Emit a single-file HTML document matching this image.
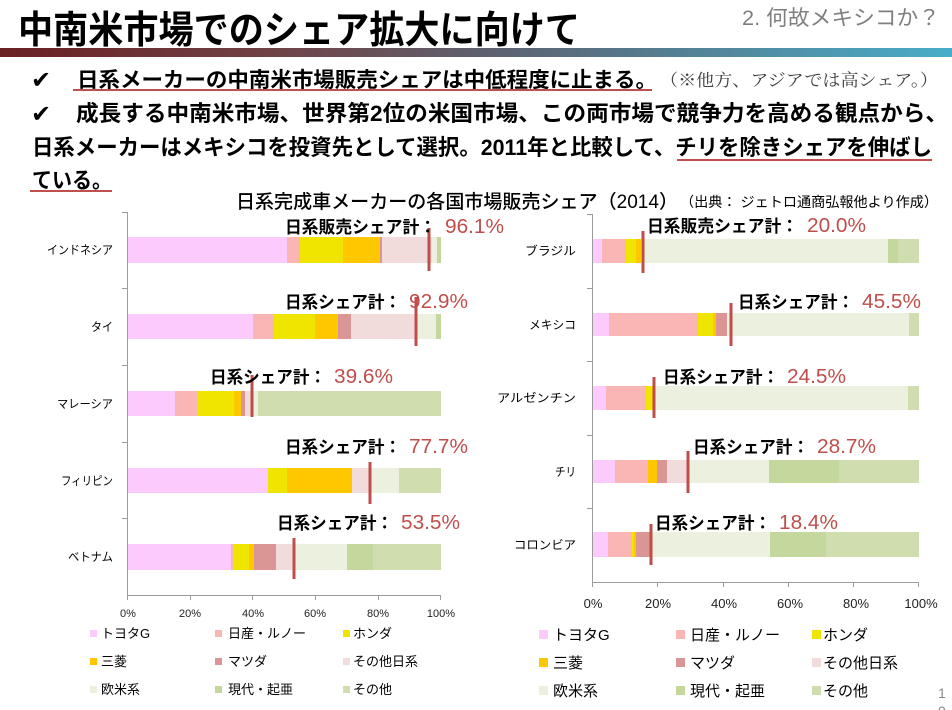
<!DOCTYPE html>
<html><head><meta charset="utf-8"><style>
html,body{margin:0;padding:0;background:#fff;width:952px;height:710px;overflow:hidden}
svg{display:block}
.jp{font-family:"Liberation Sans","Noto Sans CJK JP",sans-serif}
.mc{font-family:"Liberation Serif","Noto Serif CJK SC",serif}
.lb{font-family:"Liberation Sans","Noto Sans CJK JP",sans-serif;font-weight:bold;font-size:17px;fill:#000}
.pc{font-family:"Liberation Sans",sans-serif;font-size:20px;fill:#bf4e4b}
.cat{font-family:"Liberation Sans","Noto Sans CJK JP",sans-serif;font-size:12px;fill:#000}
.tk{font-family:"Liberation Sans",sans-serif;fill:#222}
.ck{font-family:"DejaVu Sans",sans-serif;font-weight:bold}
</style></head><body>
<svg width="952" height="710" viewBox="0 0 952 710" xmlns="http://www.w3.org/2000/svg">
<defs>
<linearGradient id="g" x1="0" y1="0" x2="1" y2="0">
<stop offset="0" stop-color="#6a2023"/>
<stop offset="0.3" stop-color="#6f4448"/>
<stop offset="0.55" stop-color="#5b6676"/>
<stop offset="1" stop-color="#48adc9"/>
</linearGradient>
</defs>
<rect width="952" height="710" fill="#fff"/>

<!-- Title -->
<text x="18" y="43" class="jp" font-size="38" font-weight="bold" textLength="562" lengthAdjust="spacingAndGlyphs">中南米市場でのシェア拡大に向けて</text>
<text x="742" y="25" class="jp" font-size="21" fill="#7f7f7f" textLength="198" lengthAdjust="spacingAndGlyphs">2. 何故メキシコか？</text>
<rect x="0" y="48" width="952" height="9" fill="url(#g)"/>

<!-- Bullets -->
<text x="31" y="88" class="ck" font-size="24">✔</text>
<text x="77" y="87" class="jp" font-size="21" font-weight="bold" textLength="580" lengthAdjust="spacingAndGlyphs">日系メーカーの中南米市場販売シェアは中低程度に止まる。</text>
<line x1="73" y1="90" x2="652" y2="90" stroke="#c0504d" stroke-width="2"/>
<text x="660" y="86" class="mc" font-size="17" fill="#404040" textLength="278" lengthAdjust="spacingAndGlyphs">（※他方、アジアでは高シェア。）</text>

<text x="31" y="122" class="ck" font-size="24">✔</text>
<text x="76" y="121" class="jp" font-size="22" font-weight="bold" textLength="872" lengthAdjust="spacingAndGlyphs">成長する中南米市場、世界第2位の米国市場、この両市場で競争力を高める観点から、</text>
<text x="32" y="155" class="jp" font-size="22" font-weight="bold" textLength="900" lengthAdjust="spacingAndGlyphs">日系メーカーはメキシコを投資先として選択。2011年と比較して、チリを除きシェアを伸ばし</text>
<line x1="677" y1="160" x2="932" y2="160" stroke="#c0504d" stroke-width="2"/>
<text x="32" y="188" class="jp" font-size="22" font-weight="bold" textLength="80" lengthAdjust="spacingAndGlyphs">ている。</text>
<line x1="30" y1="191" x2="112" y2="191" stroke="#c0504d" stroke-width="2"/>

<!-- Chart title -->
<text x="236" y="208" class="jp" font-size="19" font-weight="500" textLength="442" lengthAdjust="spacingAndGlyphs">日系完成車メーカーの各国市場販売シェア（2014）</text>
<text x="680" y="207" class="jp" font-size="14" textLength="258" lengthAdjust="spacingAndGlyphs">（出典： ジェトロ通商弘報他より作成）</text>

<!-- LEFT CHART bars -->
<g>
<rect x="127" y="237" width="160" height="26" fill="#fccafc"/>
<rect x="287" y="237" width="13" height="26" fill="#f9b6b4"/>
<rect x="300" y="237" width="43" height="26" fill="#f0e500"/>
<rect x="343" y="237" width="37" height="26" fill="#ffc700"/>
<rect x="380" y="237" width="2" height="26" fill="#d99694"/>
<rect x="382" y="237" width="50" height="26" fill="#f2dcdb"/>
<rect x="432" y="237" width="5" height="26" fill="#ebf1de"/>
<rect x="437" y="237" width="4" height="26" fill="#c4d79c"/>

<rect x="127" y="314" width="126" height="25" fill="#fccafc"/>
<rect x="253" y="314" width="21" height="25" fill="#f9b6b4"/>
<rect x="274" y="314" width="41" height="25" fill="#f0e500"/>
<rect x="315" y="314" width="23" height="25" fill="#ffc700"/>
<rect x="338" y="314" width="13" height="25" fill="#d99694"/>
<rect x="351" y="314" width="66" height="25" fill="#f2dcdb"/>
<rect x="417" y="314" width="19" height="25" fill="#ebf1de"/>
<rect x="436" y="314" width="5" height="25" fill="#c4d79c"/>

<rect x="127" y="391" width="48" height="25" fill="#fccafc"/>
<rect x="175" y="391" width="22" height="25" fill="#f9b6b4"/>
<rect x="197" y="391" width="37" height="25" fill="#f0e500"/>
<rect x="234" y="391" width="7" height="25" fill="#ffc700"/>
<rect x="241" y="391" width="4" height="25" fill="#d99694"/>
<rect x="245" y="391" width="9" height="25" fill="#f2dcdb"/>
<rect x="254" y="391" width="4" height="25" fill="#ebf1de"/>
<rect x="258" y="391" width="183" height="25" fill="#cfddaf"/>

<rect x="127" y="468" width="141" height="25" fill="#fccafc"/>
<rect x="268" y="468" width="19" height="25" fill="#f0e500"/>
<rect x="287" y="468" width="65" height="25" fill="#ffc700"/>
<rect x="352" y="468" width="19" height="25" fill="#f2dcdb"/>
<rect x="371" y="468" width="28" height="25" fill="#ebf1de"/>
<rect x="399" y="468" width="42" height="25" fill="#cfddaf"/>

<rect x="127" y="544" width="104" height="26" fill="#fccafc"/>
<rect x="231" y="544" width="2" height="26" fill="#f9b6b4"/>
<rect x="233" y="544" width="16" height="26" fill="#f0e500"/>
<rect x="249" y="544" width="5" height="26" fill="#ffc700"/>
<rect x="254" y="544" width="22" height="26" fill="#d99694"/>
<rect x="276" y="544" width="19" height="26" fill="#f2dcdb"/>
<rect x="295" y="544" width="52" height="26" fill="#ebf1de"/>
<rect x="347" y="544" width="26" height="26" fill="#c4d79c"/>
<rect x="373" y="544" width="68" height="26" fill="#cfddaf"/>
</g>
<g stroke="#bf4e4b" stroke-width="3">
<line x1="429" y1="228" x2="429" y2="271"/>
<line x1="416" y1="297" x2="416" y2="346"/>
<line x1="252" y1="375" x2="252" y2="417"/>
<line x1="370" y1="462" x2="370" y2="504"/>
<line x1="294" y1="538" x2="294" y2="579"/>
</g>
<g stroke="#9c9c9c" stroke-width="1" fill="none">
<line x1="127.5" y1="212" x2="127.5" y2="595"/>
<line x1="127" y1="595.5" x2="441" y2="595.5"/>
<line x1="122" y1="212.5" x2="127" y2="212.5"/>
<line x1="122" y1="288.5" x2="127" y2="288.5"/>
<line x1="122" y1="365.5" x2="127" y2="365.5"/>
<line x1="122" y1="442.5" x2="127" y2="442.5"/>
<line x1="122" y1="518.5" x2="127" y2="518.5"/>
<line x1="127.5" y1="595" x2="127.5" y2="600"/>
<line x1="190.5" y1="595" x2="190.5" y2="600"/>
<line x1="252.5" y1="595" x2="252.5" y2="600"/>
<line x1="315.5" y1="595" x2="315.5" y2="600"/>
<line x1="378.5" y1="595" x2="378.5" y2="600"/>
<line x1="440.5" y1="595" x2="440.5" y2="600"/>
</g>
<g class="cat" text-anchor="end">
<text x="113" y="254" textLength="66" lengthAdjust="spacingAndGlyphs">インドネシア</text>
<text x="113" y="331" textLength="22" lengthAdjust="spacingAndGlyphs">タイ</text>
<text x="113" y="408" textLength="56" lengthAdjust="spacingAndGlyphs">マレーシア</text>
<text x="113" y="485" textLength="52" lengthAdjust="spacingAndGlyphs">フィリピン</text>
<text x="113" y="561" textLength="45" lengthAdjust="spacingAndGlyphs">ベトナム</text>
</g>
<g class="tk" font-size="11" text-anchor="middle">
<text x="128" y="617">0%</text>
<text x="190" y="617">20%</text>
<text x="253" y="617">40%</text>
<text x="315" y="617">60%</text>
<text x="378" y="617">80%</text>
<text x="441" y="617">100%</text>
</g>
<text x="285" y="233" class="lb" textLength="151" lengthAdjust="spacingAndGlyphs">日系販売シェア計：</text>
<text x="445" y="233" class="pc" textLength="59" lengthAdjust="spacingAndGlyphs">96.1%</text>
<text x="285" y="308" class="lb" textLength="116" lengthAdjust="spacingAndGlyphs">日系シェア計：</text>
<text x="409" y="308" class="pc" textLength="59" lengthAdjust="spacingAndGlyphs">92.9%</text>
<text x="210" y="383" class="lb" textLength="116" lengthAdjust="spacingAndGlyphs">日系シェア計：</text>
<text x="334" y="383" class="pc" textLength="59" lengthAdjust="spacingAndGlyphs">39.6%</text>
<text x="285" y="453" class="lb" textLength="116" lengthAdjust="spacingAndGlyphs">日系シェア計：</text>
<text x="409" y="453" class="pc" textLength="59" lengthAdjust="spacingAndGlyphs">77.7%</text>
<text x="277" y="529" class="lb" textLength="116" lengthAdjust="spacingAndGlyphs">日系シェア計：</text>
<text x="401" y="529" class="pc" textLength="59" lengthAdjust="spacingAndGlyphs">53.5%</text>

<g class="jp" font-size="13">
<rect x="90" y="630" width="7" height="7" fill="#fccafc"/><text x="101" y="638">トヨタG</text>
<rect x="215" y="630" width="7" height="7" fill="#f9b6b4"/><text x="228" y="638">日産・ルノー</text>
<rect x="343" y="630" width="7" height="7" fill="#f0e500"/><text x="353" y="638">ホンダ</text>
<rect x="90" y="658" width="7" height="7" fill="#ffc700"/><text x="101" y="666">三菱</text>
<rect x="215" y="658" width="7" height="7" fill="#d99694"/><text x="228" y="666">マツダ</text>
<rect x="343" y="658" width="7" height="7" fill="#f2dcdb"/><text x="353" y="666">その他日系</text>
<rect x="90" y="686" width="7" height="7" fill="#ebf1de"/><text x="101" y="694">欧米系</text>
<rect x="215" y="686" width="7" height="7" fill="#c4d79c"/><text x="228" y="694">現代・起亜</text>
<rect x="343" y="686" width="7" height="7" fill="#cfddaf"/><text x="353" y="694">その他</text>
</g>

<!-- RIGHT CHART -->
<g>
<rect x="592" y="239" width="10" height="24" fill="#fccafc"/>
<rect x="602" y="239" width="24" height="24" fill="#f9b6b4"/>
<rect x="626" y="239" width="10" height="24" fill="#f0e500"/>
<rect x="636" y="239" width="5" height="24" fill="#ffc700"/>
<rect x="641" y="239" width="247" height="24" fill="#ebf1de"/>
<rect x="888" y="239" width="10" height="24" fill="#c4d79c"/>
<rect x="898" y="239" width="21" height="24" fill="#cfddaf"/>

<rect x="592" y="313" width="17" height="23" fill="#fccafc"/>
<rect x="609" y="313" width="89" height="23" fill="#f9b6b4"/>
<rect x="698" y="313" width="15" height="23" fill="#f0e500"/>
<rect x="713" y="313" width="3" height="23" fill="#ffc700"/>
<rect x="716" y="313" width="11" height="23" fill="#d99694"/>
<rect x="727" y="313" width="182" height="23" fill="#ebf1de"/>
<rect x="909" y="313" width="10" height="23" fill="#cfddaf"/>

<rect x="592" y="386" width="14" height="24" fill="#fccafc"/>
<rect x="606" y="386" width="40" height="24" fill="#f9b6b4"/>
<rect x="646" y="386" width="6" height="24" fill="#f0e500"/>
<rect x="652" y="386" width="2" height="24" fill="#ffc700"/>
<rect x="654" y="386" width="254" height="24" fill="#ebf1de"/>
<rect x="908" y="386" width="11" height="24" fill="#cfddaf"/>

<rect x="592" y="460" width="23" height="23" fill="#fccafc"/>
<rect x="615" y="460" width="33" height="23" fill="#f9b6b4"/>
<rect x="648" y="460" width="9" height="23" fill="#ffc700"/>
<rect x="657" y="460" width="10" height="23" fill="#d99694"/>
<rect x="667" y="460" width="20" height="23" fill="#f2dcdb"/>
<rect x="687" y="460" width="82" height="23" fill="#ebf1de"/>
<rect x="769" y="460" width="70" height="23" fill="#c4d79c"/>
<rect x="839" y="460" width="80" height="23" fill="#cfddaf"/>

<rect x="592" y="532" width="16" height="25" fill="#fccafc"/>
<rect x="608" y="532" width="24" height="25" fill="#f9b6b4"/>
<rect x="632" y="532" width="2" height="25" fill="#f0e500"/>
<rect x="634" y="532" width="2" height="25" fill="#ffc700"/>
<rect x="636" y="532" width="14" height="25" fill="#d99694"/>
<rect x="650" y="532" width="120" height="25" fill="#ebf1de"/>
<rect x="770" y="532" width="56" height="25" fill="#c4d79c"/>
<rect x="826" y="532" width="93" height="25" fill="#cfddaf"/>
</g>
<g stroke="#bf4e4b" stroke-width="3">
<line x1="643" y1="231" x2="643" y2="273"/>
<line x1="731" y1="303" x2="731" y2="346"/>
<line x1="654" y1="377" x2="654" y2="418"/>
<line x1="688" y1="451" x2="688" y2="493"/>
<line x1="651" y1="524" x2="651" y2="565"/>
</g>
<g stroke="#9c9c9c" stroke-width="1" fill="none">
<line x1="592.5" y1="214" x2="592.5" y2="582"/>
<line x1="592" y1="582.5" x2="919" y2="582.5"/>
<line x1="587" y1="214.5" x2="592" y2="214.5"/>
<line x1="587" y1="288.5" x2="592" y2="288.5"/>
<line x1="587" y1="361.5" x2="592" y2="361.5"/>
<line x1="587" y1="435.5" x2="592" y2="435.5"/>
<line x1="587" y1="508.5" x2="592" y2="508.5"/>
<line x1="592.5" y1="582" x2="592.5" y2="587"/>
<line x1="657.5" y1="582" x2="657.5" y2="587"/>
<line x1="723.5" y1="582" x2="723.5" y2="587"/>
<line x1="788.5" y1="582" x2="788.5" y2="587"/>
<line x1="853.5" y1="582" x2="853.5" y2="587"/>
<line x1="918.5" y1="582" x2="918.5" y2="587"/>
</g>
<g class="cat" text-anchor="end">
<text x="576" y="255" textLength="51" lengthAdjust="spacingAndGlyphs">ブラジル</text>
<text x="576" y="329" textLength="47" lengthAdjust="spacingAndGlyphs">メキシコ</text>
<text x="576" y="402" textLength="79" lengthAdjust="spacingAndGlyphs">アルゼンチン</text>
<text x="576" y="476" textLength="21" lengthAdjust="spacingAndGlyphs">チリ</text>
<text x="576" y="549" textLength="62" lengthAdjust="spacingAndGlyphs">コロンビア</text>
</g>
<g class="tk" font-size="13" text-anchor="middle">
<text x="593" y="608">0%</text>
<text x="658" y="608">20%</text>
<text x="724" y="608">40%</text>
<text x="790" y="608">60%</text>
<text x="856" y="608">80%</text>
<text x="921" y="608">100%</text>
</g>
<text x="647" y="232" class="lb" textLength="151" lengthAdjust="spacingAndGlyphs">日系販売シェア計：</text>
<text x="807" y="232" class="pc" textLength="59" lengthAdjust="spacingAndGlyphs">20.0%</text>
<text x="738" y="308" class="lb" textLength="116" lengthAdjust="spacingAndGlyphs">日系シェア計：</text>
<text x="862" y="308" class="pc" textLength="59" lengthAdjust="spacingAndGlyphs">45.5%</text>
<text x="663" y="383" class="lb" textLength="116" lengthAdjust="spacingAndGlyphs">日系シェア計：</text>
<text x="787" y="383" class="pc" textLength="59" lengthAdjust="spacingAndGlyphs">24.5%</text>
<text x="693" y="453" class="lb" textLength="116" lengthAdjust="spacingAndGlyphs">日系シェア計：</text>
<text x="817" y="453" class="pc" textLength="59" lengthAdjust="spacingAndGlyphs">28.7%</text>
<text x="655" y="529" class="lb" textLength="116" lengthAdjust="spacingAndGlyphs">日系シェア計：</text>
<text x="779" y="529" class="pc" textLength="59" lengthAdjust="spacingAndGlyphs">18.4%</text>

<g class="jp" font-size="15">
<rect x="539" y="630" width="9" height="9" fill="#fccafc"/><text x="553" y="640">トヨタG</text>
<rect x="676" y="630" width="9" height="9" fill="#f9b6b4"/><text x="690" y="640">日産・ルノー</text>
<rect x="812" y="630" width="9" height="9" fill="#f0e500"/><text x="823" y="640">ホンダ</text>
<rect x="539" y="658" width="9" height="9" fill="#ffc700"/><text x="553" y="668">三菱</text>
<rect x="676" y="658" width="9" height="9" fill="#d99694"/><text x="690" y="668">マツダ</text>
<rect x="812" y="658" width="9" height="9" fill="#f2dcdb"/><text x="823" y="668">その他日系</text>
<rect x="539" y="686" width="9" height="9" fill="#ebf1de"/><text x="553" y="696">欧米系</text>
<rect x="676" y="686" width="9" height="9" fill="#c4d79c"/><text x="690" y="696">現代・起亜</text>
<rect x="812" y="686" width="9" height="9" fill="#cfddaf"/><text x="823" y="696">その他</text>
</g>

<text x="938" y="698" class="tk" font-size="14" style="fill:#888">1</text>
<text x="938" y="716" class="tk" font-size="14" style="fill:#888">0</text>
</svg>
</body></html>
